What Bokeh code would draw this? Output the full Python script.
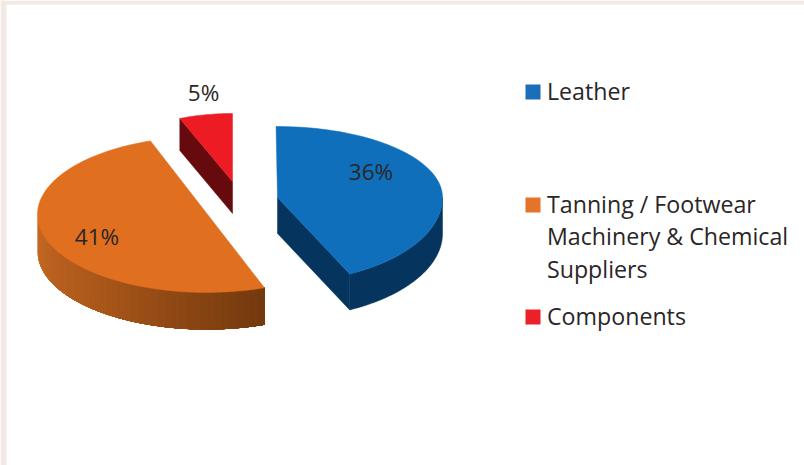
import numpy as np
from bokeh.plotting import figure
from bokeh.core.properties import value
from bokeh.embed import file_html
from bokeh.resources import INLINE

# ---- data
categories = ["Leather", "Tanning / Footwear\nMachinery & Chemical\nSuppliers", "Components"]
shares = [36, 41, 5]
labels = ["36%", "41%", "5%"]

# ---- style / layout
FONT = "Open Sans"
TEXT = "#2a2627"
top_colors = ["#0f6fba", "#e06f20", "#ed1c24"]
key_colors = ["#1a6fb8", "#e5732a", "#ed2027"]
#           cx,  cy,  rx, ry_back, ry_front, depth, start_adj, end_adj
view = [(277, 197, 165, 71, 85, 36, -0.5, -4.0),
        (206, 214, 169, 78, 78, 37, 1.9, 2.6),
        (232, 181, 141, 68, 68, 32, 0.0, 0.0)]
label_pos = [(370.5, 171), (96.5, 236), (203, 92)]
key_y = [90, 203, 315]

W, H = 804, 465
p = figure(width=W, height=H, x_range=(0, W), y_range=(H, 0),
           output_backend="svg", toolbar_location=None, min_border=0)
p.axis.visible = False
p.grid.visible = False
p.outline_line_color = None
p.background_fill_color = "white"
p.border_fill_color = "white"

# paper surround of the panel
p.quad(left=[0, 0], right=[6, W], top=[0, 0], bottom=[H, 4], fill_color="#f2e8e4", line_color=None)


def rim(v, deg, drop=0.0):
    cx, cy, rx, ryb, ryf = v[:5]
    t = np.radians(np.asarray(deg, dtype=float))
    c = np.cos(t)
    return cx + rx * np.sin(t), cy - np.where(c > 0, ryb, ryf) * c + drop


def add(xs, ys, color, line=True):
    p.patch(list(xs), list(ys), fill_color=color, line_color=color if line else None, line_width=0.5)


def mix(deg, stops):
    a = [s[0] for s in stops]
    ch = [int(np.interp(deg, a, [int(s[1][i:i + 2], 16) for s in stops])) for i in (1, 3, 5)]
    return "#%02x%02x%02x" % tuple(ch)


frac = np.array(shares, dtype=float) / sum(shares) * 360
ends = np.cumsum(frac)
starts = ends - frac

# Components
v = view[2]
s, e = starts[2] + v[6], ends[2] + v[7]
cx, cy, d = v[0], v[1], v[5]
x0, y0 = rim(v, s)
add([x0, cx, cx, x0], [y0, cy, cy + d, y0 + d], "#670a0e")
a = np.linspace(s, e, 20)
x, y = rim(v, a)
add(np.r_[cx, x], np.r_[cy, y], top_colors[2])

# Tanning: shaded outer wall (overlapping bands, painted from the left), then top
v = view[1]
s, e = starts[1] + v[6], ends[1] + v[7]
d = v[5]
stops = [(s, "#733a0e"), (190, "#8f4814"), (220, "#ab581b"), (270, "#c96a24")]
edges = np.linspace(270, s, 46)
for a0, a1 in zip(edges[:-1], edges[1:]):
    seg = np.linspace(a0, s, 30) if a1 > s else np.array([a0, s])
    x, yt = rim(v, seg)
    _, yb = rim(v, seg, d)
    add(np.r_[x, x[::-1]], np.r_[yt, yb[::-1]], mix((a0 + a1) / 2, stops), line=False)
x, y = rim(v, np.linspace(s, e, 90))
add(x, y, top_colors[1])

# Leather: radial wall, outer wall, top
v = view[0]
s, e = starts[0] + v[6], ends[0] + v[7]
cx, cy, d = v[0], v[1], v[5]
x1, y1 = rim(v, e)
add([cx, x1, x1, cx], [cy, y1, y1 + d, cy + d], "#05355f")
seg = np.linspace(90, e, 40)
x, yt = rim(v, seg)
_, yb = rim(v, seg, d)
add(np.r_[x, x[::-1]], np.r_[yt, yb[::-1]], "#05355f")
x, y = rim(v, np.linspace(s, e, 70))
add(np.r_[cx, x], np.r_[cy, y], top_colors[0])

# Labels on the slices
p.text([q[0] for q in label_pos], [q[1] for q in label_pos], text=labels,
       text_font=value(FONT), text_font_size="22.5px", text_color=TEXT,
       text_align="center", text_baseline="middle")

# Legend
swatch_y = [91.5, 204.5, 316.5]
p.quad(left=[525] * 3, right=[540] * 3, top=[y - 7.5 for y in swatch_y], bottom=[y + 7.5 for y in swatch_y],
       fill_color=key_colors, line_color=None)
tx, ty, tt = [], [], []
for yc, name in zip(key_y, categories):
    for i, line in enumerate(name.split("\n")):
        tx.append(546.5)
        ty.append(yc + i * 32.5)
        tt.append(line)
p.text(tx, ty, text=tt, text_font=value(FONT), text_font_size="23.2px", text_color=TEXT,
       text_align="left", text_baseline="middle")

open("out.html", "w").write(file_html(p, INLINE))
